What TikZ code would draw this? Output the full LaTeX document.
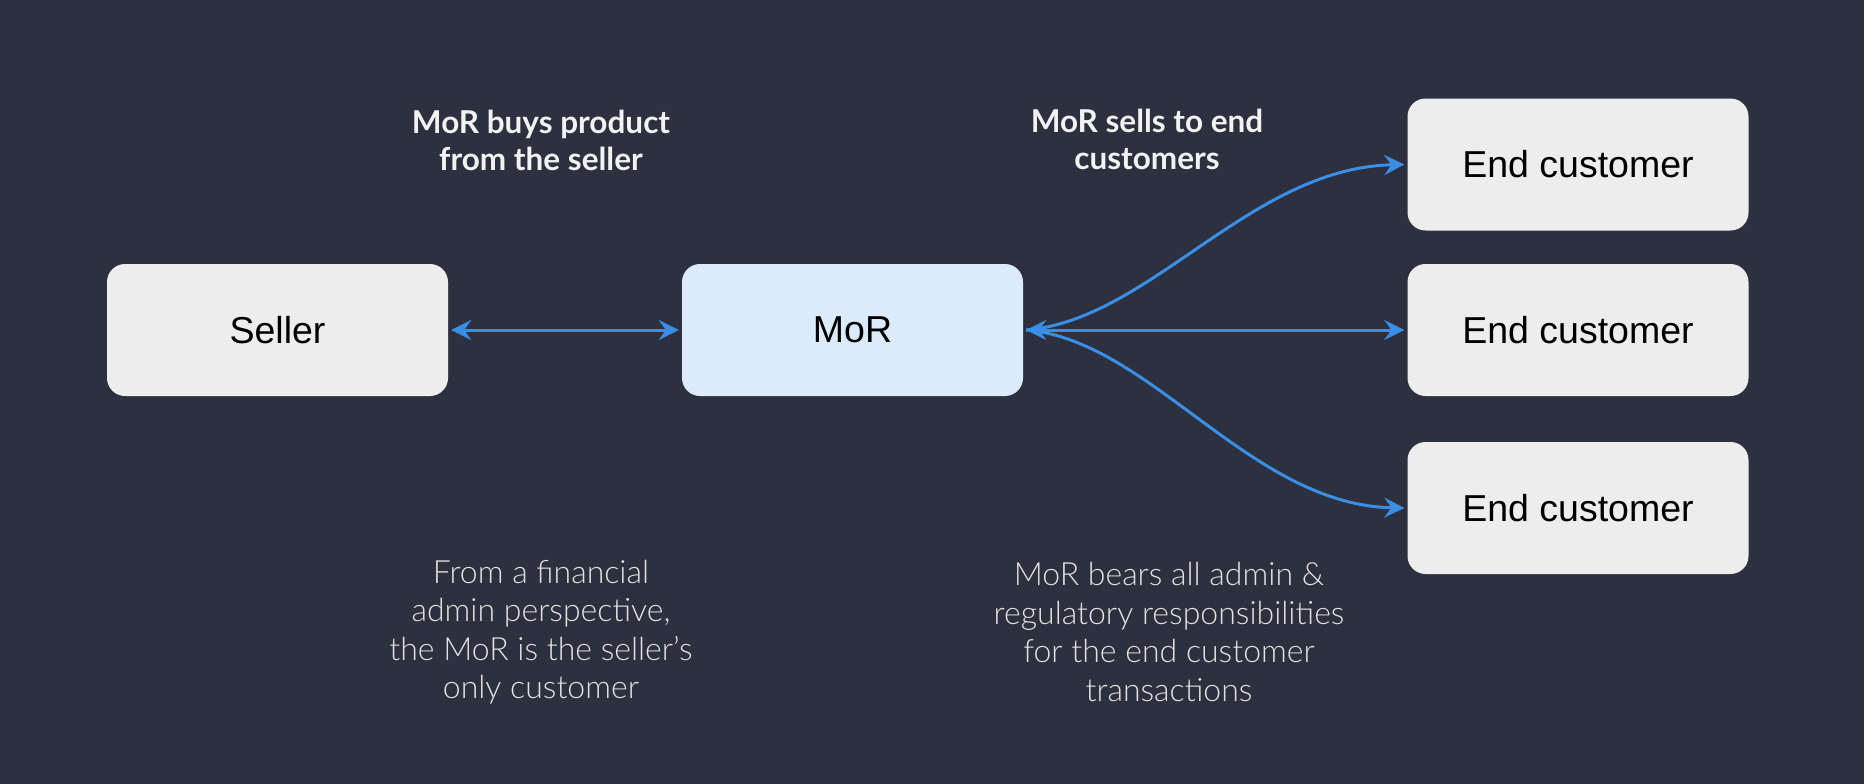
\documentclass[tikz,border=0pt]{standalone}
\usepackage{fontspec}
\setmainfont{Liberation Sans}
\newfontfamily\labelfont{Lato}
\newfontfamily\lightfont{Lato Light}
\usetikzlibrary{arrows.meta}
\definecolor{bg}{HTML}{2D303E}
\definecolor{boxgrey}{HTML}{EDEDED}
\definecolor{morblue}{HTML}{DCEBFB}
\definecolor{arrowblue}{HTML}{3A8EE6}
\definecolor{lbl}{HTML}{F2F2F2}
\definecolor{note}{HTML}{E2E2E2}
\tikzset{
  box/.style={draw=none, fill=boxgrey, rounded corners=18pt, minimum width=341pt, minimum height=132pt, inner sep=0pt, font=\fontsize{37.5}{42}\selectfont, text=black},
  morbox/.style={box, fill=morblue},
  conn/.style={draw=arrowblue, line width=3pt, arrows={Stealth[length=20pt,width=20pt,inset=7pt]-Stealth[length=20pt,width=20pt,inset=7pt]}},
  oneway/.style={draw=arrowblue, line width=3pt, arrows={-Stealth[length=20pt,width=20pt,inset=7pt]}},
  toplabel/.style={align=center, text=lbl, font=\labelfont\bfseries\fontsize{31.5}{37}\selectfont},
  notelabel/.style={align=center, text=note, font=\lightfont\fontsize{32}{38.5}\selectfont}
}
\begin{document}
\begin{tikzpicture}[x=1pt,y=-1pt]
\fill[bg] (0,0) rectangle (1864,784);
\useasboundingbox (0,0) rectangle (1864,784);
\node[box] (seller) at (277.5,330) {Seller};
\node[morbox] (mor) at (852.5,330) {MoR};
\node[box] (ec1) at (1578,164.5) {End customer};
\node[box] (ec2) at (1578,330) {End customer};
\node[box] (ec3) at (1578,508) {End customer};
\coordinate (morr) at ([xshift=3pt]mor.east);
\draw[conn] ([xshift=3pt]seller.east) -- ([xshift=-3pt]mor.west);
\draw[conn] (morr) -- ([xshift=-3pt]ec2.west);
\draw[oneway] (morr) .. controls (1150,320) and (1250,168) .. ([xshift=-3pt]ec1.west);
\draw[oneway] (morr) .. controls (1150,340) and (1250,505) .. ([xshift=-3pt]ec3.west);
\node[toplabel] (lab1) at (541,140) {MoR buys product\\from the seller};
\node[toplabel] (lab2) at (1147,139) {MoR sells to end\\customers};
\node[notelabel] (note1) at (541,632) {From a financial\\admin perspective,\\the MoR is the seller’s\\only customer};
\node[notelabel] (note2) at (1169,632) {MoR bears all admin \&\\regulatory responsibilities\\for the end customer\\transactions};
\end{tikzpicture}
\end{document}
